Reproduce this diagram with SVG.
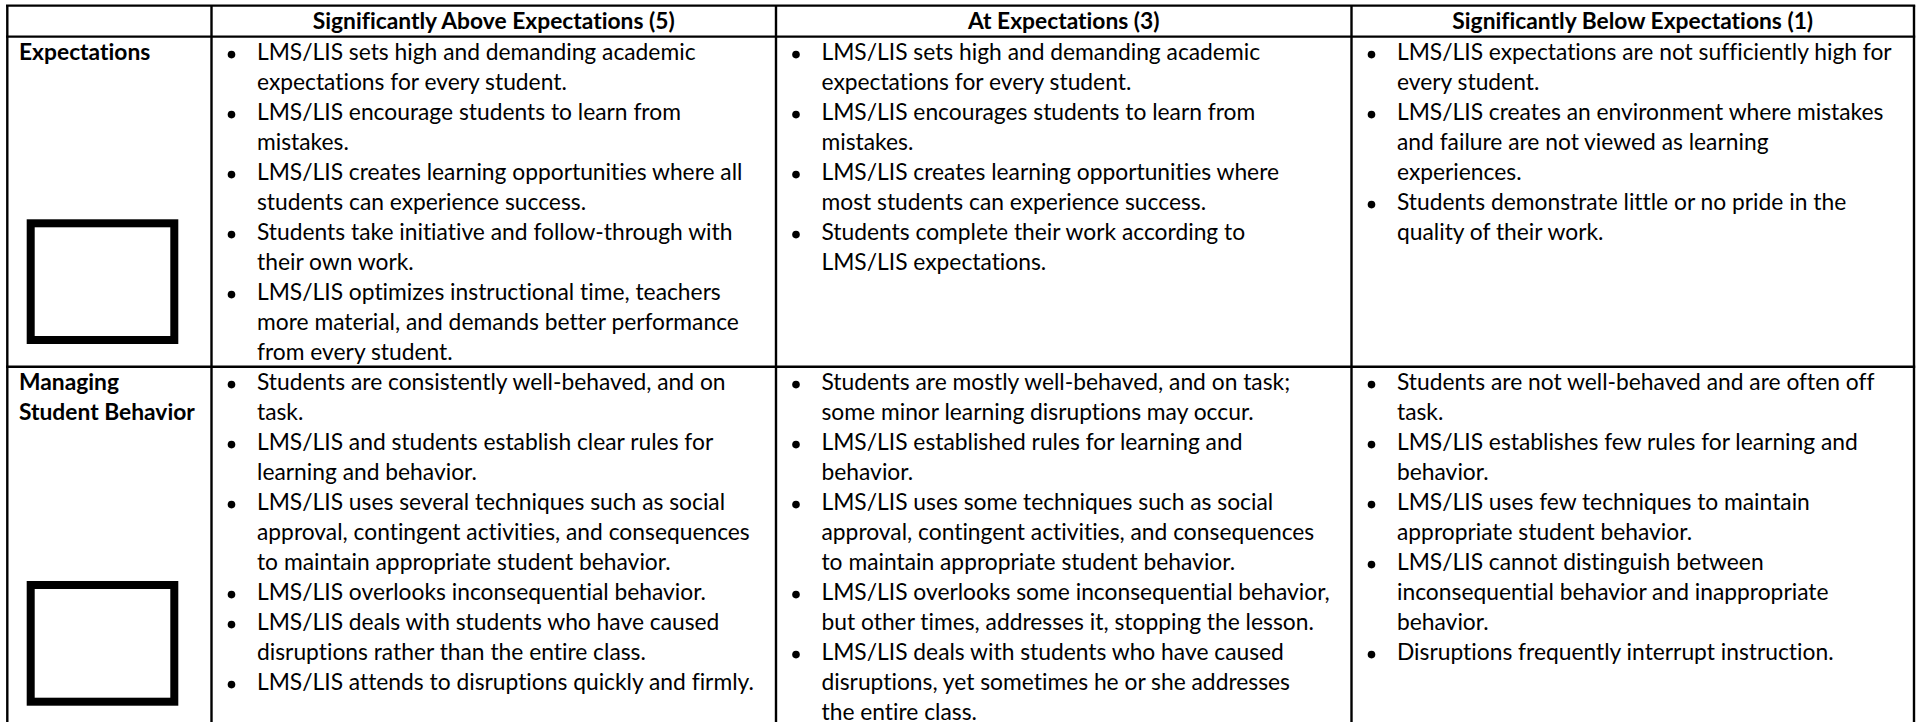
<svg xmlns="http://www.w3.org/2000/svg" width="1921" height="722" viewBox="0 0 1921 722">
<style>
.b{fill:none;stroke:#000;stroke-width:2.4}
.t,.h{font-family:Lato,"Liberation Sans",sans-serif;font-size:22.8px;fill:#000;font-variant-ligatures:none;font-feature-settings:"liga" 0,"dlig" 0,"clig" 0}
.h{font-weight:bold}
.hc{text-anchor:middle}
.dot{fill:#000}
.box{fill:#fff;stroke:#000;stroke-width:8}
</style>
<rect width="1921" height="722" fill="#fff"/>
<g id="borders">
<line class="b" x1="6" y1="5.6" x2="1915.2" y2="5.6"/>
<line class="b" x1="7.3" y1="5.6" x2="7.3" y2="722"/>
<line class="b" x1="211.5" y1="5.6" x2="211.5" y2="722"/>
<line class="b" x1="776" y1="5.6" x2="776" y2="722"/>
<line class="b" x1="1351.5" y1="5.6" x2="1351.5" y2="722"/>
<line class="b" x1="1914" y1="5.6" x2="1914" y2="722"/>
<line class="b" x1="6" y1="36.6" x2="1915.2" y2="36.6"/>
<line class="b" x1="6" y1="366.7" x2="1915.2" y2="366.7"/>
</g>
<g id="header">
<text class="h hc" x="493.75" y="29">Significantly Above Expectations (5)</text>
<text class="h hc" x="1063.75" y="29">At Expectations (3)</text>
<text class="h hc" x="1632.75" y="29">Significantly Below Expectations (1)</text>
</g>
<g id="row1-label">
<text class="h" x="19" y="60.1">Expectations</text>
<rect class="box" x="30.7" y="223.3" width="143.6" height="116.7"/>
</g>
<g id="row1-above">
<circle class="dot" cx="231.5" cy="54.6" r="3.8"/>
<circle class="dot" cx="231.5" cy="114.6" r="3.8"/>
<circle class="dot" cx="231.5" cy="174.6" r="3.8"/>
<circle class="dot" cx="231.5" cy="234.6" r="3.8"/>
<circle class="dot" cx="231.5" cy="294.6" r="3.8"/>
<text class="t">
<tspan x="257" y="60.1">LMS/LIS sets high and demanding academic</tspan>
<tspan x="257" y="90.1">expectations for every student.</tspan>
<tspan x="257" y="120.1">LMS/LIS encourage students to learn from</tspan>
<tspan x="257" y="150.1">mistakes.</tspan>
<tspan x="257" y="180.1">LMS/LIS creates learning opportunities where all</tspan>
<tspan x="257" y="210.1">students can experience success.</tspan>
<tspan x="257" y="240.1">Students take initiative and follow-through with</tspan>
<tspan x="257" y="270.1">their own work.</tspan>
<tspan x="257" y="300.1">LMS/LIS optimizes instructional time, teachers</tspan>
<tspan x="257" y="330.1">more material, and demands better performance</tspan>
<tspan x="257" y="360.1">from every student.</tspan>
</text>
</g>
<g id="row1-at">
<circle class="dot" cx="796" cy="54.6" r="3.8"/>
<circle class="dot" cx="796" cy="114.6" r="3.8"/>
<circle class="dot" cx="796" cy="174.6" r="3.8"/>
<circle class="dot" cx="796" cy="234.6" r="3.8"/>
<text class="t">
<tspan x="821.5" y="60.1">LMS/LIS sets high and demanding academic</tspan>
<tspan x="821.5" y="90.1">expectations for every student.</tspan>
<tspan x="821.5" y="120.1">LMS/LIS encourages students to learn from</tspan>
<tspan x="821.5" y="150.1">mistakes.</tspan>
<tspan x="821.5" y="180.1">LMS/LIS creates learning opportunities where</tspan>
<tspan x="821.5" y="210.1">most students can experience success.</tspan>
<tspan x="821.5" y="240.1">Students complete their work according to</tspan>
<tspan x="821.5" y="270.1">LMS/LIS expectations.</tspan>
</text>
</g>
<g id="row1-below">
<circle class="dot" cx="1371.5" cy="54.6" r="3.8"/>
<circle class="dot" cx="1371.5" cy="114.6" r="3.8"/>
<circle class="dot" cx="1371.5" cy="204.6" r="3.8"/>
<text class="t">
<tspan x="1397" y="60.1">LMS/LIS expectations are not sufficiently high for</tspan>
<tspan x="1397" y="90.1">every student.</tspan>
<tspan x="1397" y="120.1">LMS/LIS creates an environment where mistakes</tspan>
<tspan x="1397" y="150.1">and failure are not viewed as learning</tspan>
<tspan x="1397" y="180.1">experiences.</tspan>
<tspan x="1397" y="210.1">Students demonstrate little or no pride in the</tspan>
<tspan x="1397" y="240.1">quality of their work.</tspan>
</text>
</g>
<g id="row2-label">
<text class="h"><tspan x="19" y="390.1">Managing</tspan><tspan x="19" y="420.1">Student Behavior</tspan></text>
<rect class="box" x="30.7" y="585" width="143.6" height="116.7"/>
</g>
<g id="row2-above">
<circle class="dot" cx="231.5" cy="384.6" r="3.8"/>
<circle class="dot" cx="231.5" cy="444.6" r="3.8"/>
<circle class="dot" cx="231.5" cy="504.6" r="3.8"/>
<circle class="dot" cx="231.5" cy="594.6" r="3.8"/>
<circle class="dot" cx="231.5" cy="624.6" r="3.8"/>
<circle class="dot" cx="231.5" cy="684.6" r="3.8"/>
<text class="t">
<tspan x="257" y="390.1">Students are consistently well-behaved, and on</tspan>
<tspan x="257" y="420.1">task.</tspan>
<tspan x="257" y="450.1">LMS/LIS and students establish clear rules for</tspan>
<tspan x="257" y="480.1">learning and behavior.</tspan>
<tspan x="257" y="510.1">LMS/LIS uses several techniques such as social</tspan>
<tspan x="257" y="540.1">approval, contingent activities, and consequences</tspan>
<tspan x="257" y="570.1">to maintain appropriate student behavior.</tspan>
<tspan x="257" y="600.1">LMS/LIS overlooks inconsequential behavior.</tspan>
<tspan x="257" y="630.1">LMS/LIS deals with students who have caused</tspan>
<tspan x="257" y="660.1">disruptions rather than the entire class.</tspan>
<tspan x="257" y="690.1">LMS/LIS attends to disruptions quickly and firmly.</tspan>
</text>
</g>
<g id="row2-at">
<circle class="dot" cx="796" cy="384.6" r="3.8"/>
<circle class="dot" cx="796" cy="444.6" r="3.8"/>
<circle class="dot" cx="796" cy="504.6" r="3.8"/>
<circle class="dot" cx="796" cy="594.6" r="3.8"/>
<circle class="dot" cx="796" cy="654.6" r="3.8"/>
<text class="t">
<tspan x="821.5" y="390.1">Students are mostly well-behaved, and on task;</tspan>
<tspan x="821.5" y="420.1">some minor learning disruptions may occur.</tspan>
<tspan x="821.5" y="450.1">LMS/LIS established rules for learning and</tspan>
<tspan x="821.5" y="480.1">behavior.</tspan>
<tspan x="821.5" y="510.1">LMS/LIS uses some techniques such as social</tspan>
<tspan x="821.5" y="540.1">approval, contingent activities, and consequences</tspan>
<tspan x="821.5" y="570.1">to maintain appropriate student behavior.</tspan>
<tspan x="821.5" y="600.1">LMS/LIS overlooks some inconsequential behavior,</tspan>
<tspan x="821.5" y="630.1">but other times, addresses it, stopping the lesson.</tspan>
<tspan x="821.5" y="660.1">LMS/LIS deals with students who have caused</tspan>
<tspan x="821.5" y="690.1">disruptions, yet sometimes he or she addresses</tspan>
<tspan x="821.5" y="719.6">the entire class.</tspan>
</text>
</g>
<g id="row2-below">
<circle class="dot" cx="1371.5" cy="384.6" r="3.8"/>
<circle class="dot" cx="1371.5" cy="444.6" r="3.8"/>
<circle class="dot" cx="1371.5" cy="504.6" r="3.8"/>
<circle class="dot" cx="1371.5" cy="564.6" r="3.8"/>
<circle class="dot" cx="1371.5" cy="654.6" r="3.8"/>
<text class="t">
<tspan x="1397" y="390.1">Students are not well-behaved and are often off</tspan>
<tspan x="1397" y="420.1">task.</tspan>
<tspan x="1397" y="450.1">LMS/LIS establishes few rules for learning and</tspan>
<tspan x="1397" y="480.1">behavior.</tspan>
<tspan x="1397" y="510.1">LMS/LIS uses few techniques to maintain</tspan>
<tspan x="1397" y="540.1">appropriate student behavior.</tspan>
<tspan x="1397" y="570.1">LMS/LIS cannot distinguish between</tspan>
<tspan x="1397" y="600.1">inconsequential behavior and inappropriate</tspan>
<tspan x="1397" y="630.1">behavior.</tspan>
<tspan x="1397" y="660.1">Disruptions frequently interrupt instruction.</tspan>
</text>
</g>
</svg>
